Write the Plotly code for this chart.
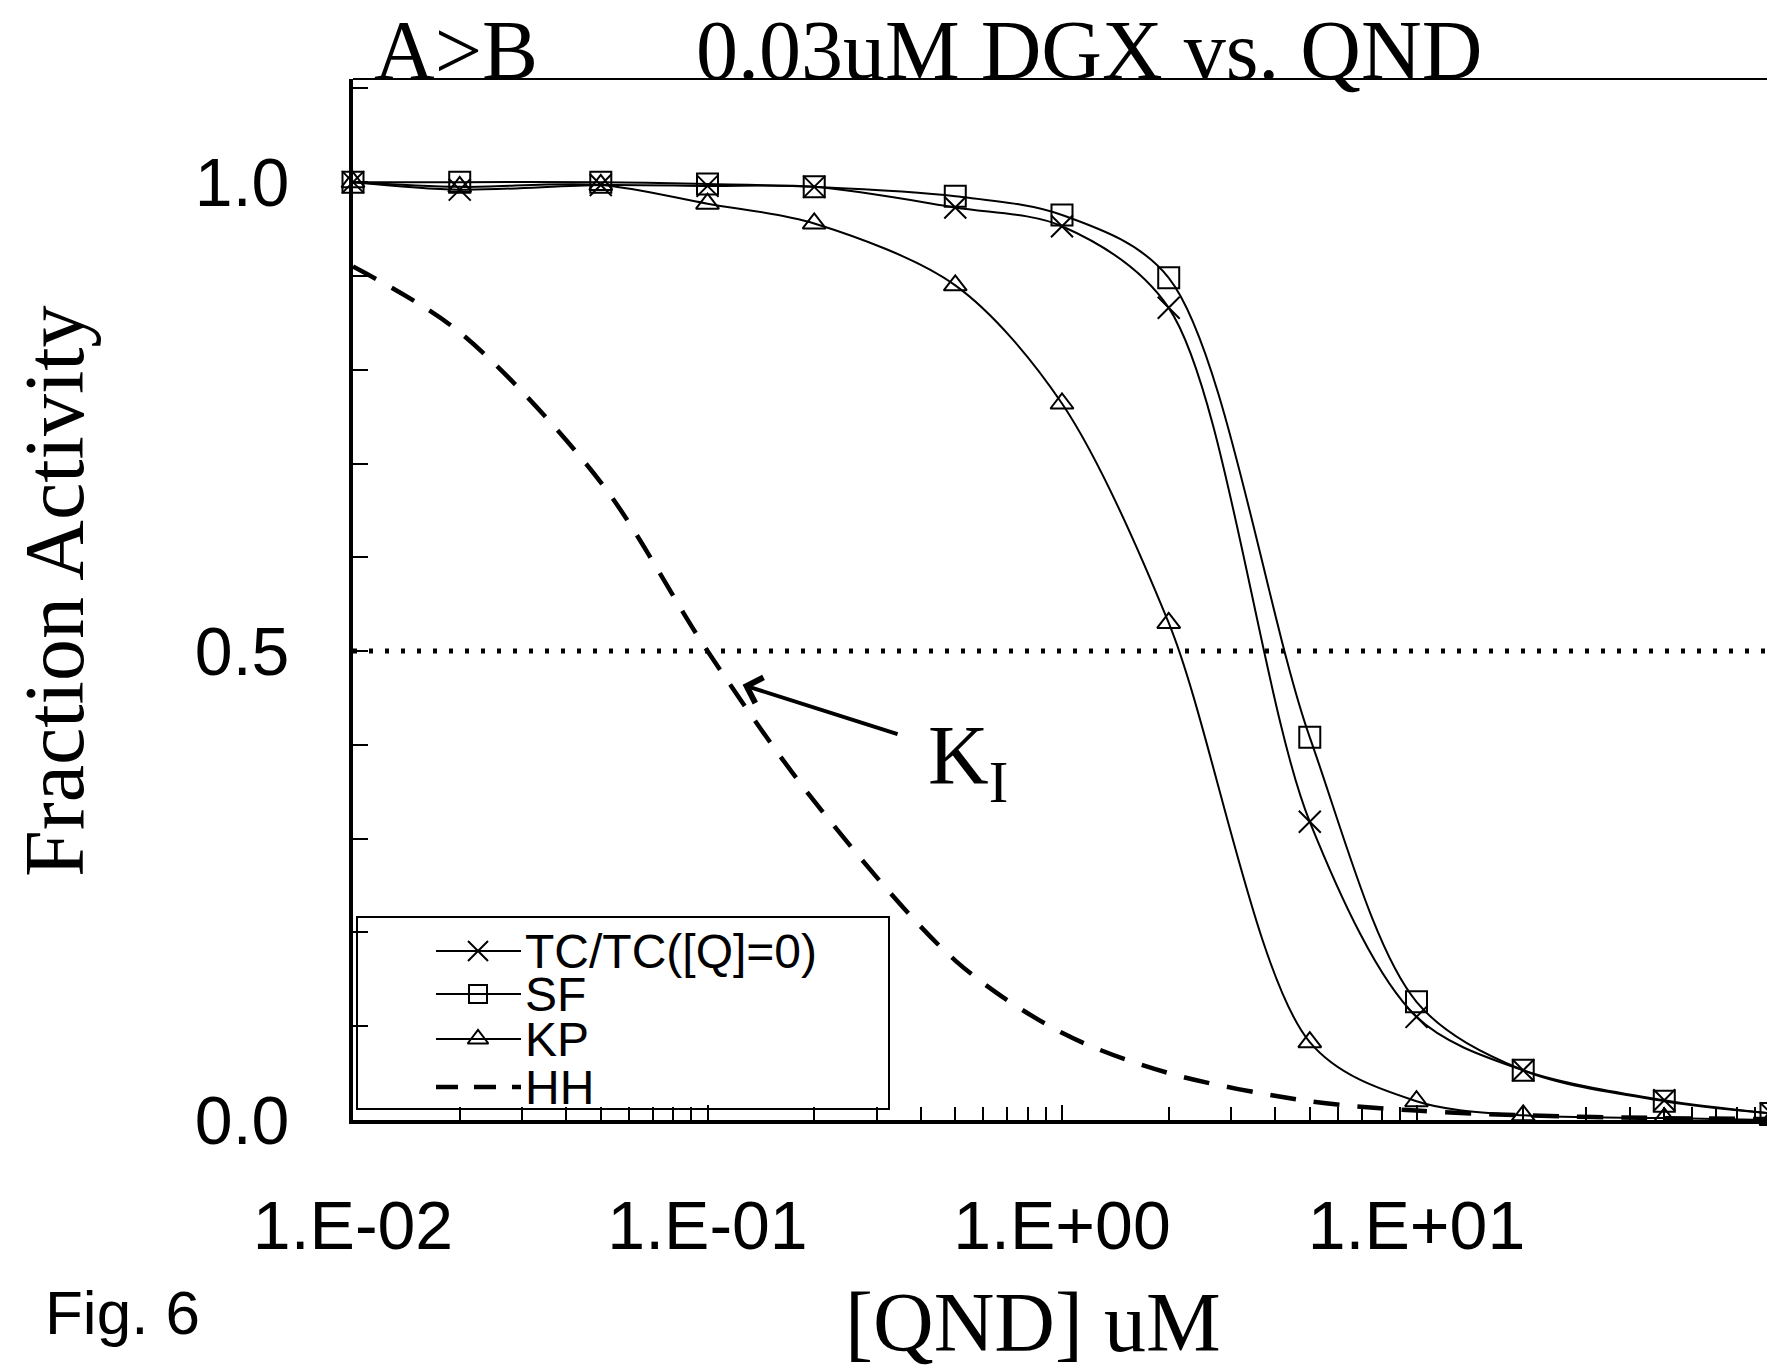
import numpy as np
import plotly.graph_objects as go

# ---------------- data ----------------
qnd_uM = [0.01, 0.02, 0.05, 0.1, 0.2, 0.5, 1, 2, 5, 10, 20, 50, 100]
tc_ratio = [1.0, 0.992, 0.997, 0.996, 0.995, 0.973, 0.953, 0.866, 0.318, 0.110, 0.053, 0.021, 0.007]
sf = [1.0, 1.0, 1.0, 0.998, 0.995, 0.985, 0.965, 0.898, 0.408, 0.126, 0.053, 0.020, 0.007]
kp = [1.0, 0.995, 0.997, 0.977, 0.956, 0.890, 0.764, 0.530, 0.083, 0.020, 0.005, 0.002, 0.0]
hh = [0.91, 0.84, 0.68, 0.50, 0.34, 0.17, 0.093, 0.050, 0.020, 0.010, 0.005, 0.002, 0.001]

series_names = ["TC/TC([Q]=0)", "SF", "KP", "HH"]
x_tick_vals = [0.01, 0.1, 1, 10]
x_tick_text = ["1.E-02", "1.E-01", "1.E+00", "1.E+01"]
y_tick_vals = [0.0, 0.5, 1.0]
y_tick_text = ["0.0", "0.5", "1.0"]
half_level = 0.5
ki_point = (0.1256, 0.464)

# ---------------- layout geometry (screen pixels) ----------------
OFF = 8                      # default page margin of the html body
W, H = 1775 - OFF, 1369 - OFF
L, R, T, B = 353, 1771, 79, 1120
pw, ph = R - L, B - T


def px(xp):
    return (xp - L) / pw


def py(yp):
    return (B - yp) / ph


SERIF = "Liberation Serif, Times New Roman, serif"
SANS = "Liberation Sans, Arial, sans-serif"

fig = go.Figure()

line_style = dict(color="black", width=2, shape="spline", smoothing=0.9)
marker_common = dict(color="black", line=dict(color="black", width=2))

fig.add_trace(go.Scatter(x=qnd_uM, y=tc_ratio, mode="lines+markers", name=series_names[0],
                         line=line_style, cliponaxis=False,
                         marker=dict(symbol="x-thin-open", size=22, **marker_common)))
fig.add_trace(go.Scatter(x=qnd_uM, y=sf, mode="lines+markers", name=series_names[1],
                         line=line_style, cliponaxis=False,
                         marker=dict(symbol="square-open", size=21, **marker_common)))
fig.add_trace(go.Scatter(x=qnd_uM, y=kp, mode="lines+markers", name=series_names[2],
                         line=line_style, cliponaxis=False,
                         marker=dict(symbol="triangle-up-open", size=20, **marker_common)))
fig.add_trace(go.Scatter(x=qnd_uM, y=hh, mode="lines", name=series_names[3],
                         line=dict(color="black", width=4.5, dash="26px,18px", shape="spline", smoothing=0.9),
                         cliponaxis=False))

# ---------------- manual legend (on an overlay paper-like axis) ----------------
leg_x0, leg_x1 = px(357), px(889)
leg_y0, leg_y1 = py(1109), py(917)
row_y = [py(951), py(994), py(1039), py(1087)]
samp_x0, samp_x1, samp_xm = px(436), px(521), px(478)
leg_symbols = ["x-thin-open", "square-open", "triangle-up-open", None]
leg_sizes = [20, 18, 18, 0]

fig.add_shape(type="rect", xref="paper", yref="paper", x0=leg_x0, x1=leg_x1, y0=leg_y0, y1=leg_y1,
              line=dict(color="black", width=2), fillcolor="white", layer="below")
for i, name in enumerate(series_names):
    if leg_symbols[i] is None:
        fig.add_trace(go.Scatter(x=[samp_x0, samp_x1], y=[row_y[i], row_y[i]], mode="lines",
                                 xaxis="x2", yaxis="y2", showlegend=False, hoverinfo="skip",
                                 line=dict(color="black", width=4.5, dash="22px,16px")))
    else:
        fig.add_trace(go.Scatter(x=[samp_x0, samp_x1], y=[row_y[i], row_y[i]], mode="lines",
                                 xaxis="x2", yaxis="y2", showlegend=False, hoverinfo="skip",
                                 line=dict(color="black", width=2)))
        fig.add_trace(go.Scatter(x=[samp_xm], y=[row_y[i]], mode="markers",
                                 xaxis="x2", yaxis="y2", showlegend=False, hoverinfo="skip",
                                 marker=dict(symbol=leg_symbols[i], size=leg_sizes[i], color="black",
                                             line=dict(color="black", width=2))))
    fig.add_annotation(x=px(523), y=row_y[i], xref="paper", yref="paper", text=name,
                       showarrow=False, xanchor="left", yanchor="middle",
                       font=dict(family=SANS, size=48, color="black"))

# ---------------- 0.5 reference line ----------------
fig.add_hline(y=half_level, line=dict(color="black", width=5, dash="4px,12px"))

# ---------------- K_I arrow and label ----------------
fig.add_annotation(x=np.log10(ki_point[0]), y=ki_point[1], xref="x", yref="y", text=" ",
                   showarrow=True, arrowhead=4, arrowsize=1.3, arrowwidth=4, arrowcolor="black",
                   ax=157, ay=50, font=dict(size=2))
fig.add_annotation(x=px(926), y=py(762), xref="paper", yref="paper", text="K<sub>I</sub>",
                   showarrow=False, xanchor="left", yanchor="middle",
                   font=dict(family=SERIF, size=84, color="black"))

# ---------------- titles ----------------
fig.add_annotation(x=px(372), y=py(50), xref="paper", yref="paper", text="A>B",
                   showarrow=False, xanchor="left", yanchor="middle",
                   font=dict(family=SERIF, size=84, color="black"))
fig.add_annotation(x=px(694), y=py(50), xref="paper", yref="paper", text="0.03uM DGX vs. QND",
                   showarrow=False, xanchor="left", yanchor="middle",
                   font=dict(family=SERIF, size=84, color="black"))
fig.add_annotation(x=px(54), y=py(591), xref="paper", yref="paper", text="Fraction Activity",
                   showarrow=False, xanchor="center", yanchor="middle", textangle=-90,
                   font=dict(family=SERIF, size=84, color="black"))
fig.add_annotation(x=px(1033), y=py(1322), xref="paper", yref="paper", text="[QND] uM",
                   showarrow=False, xanchor="center", yanchor="middle",
                   font=dict(family=SERIF, size=84, color="black"))
fig.add_annotation(x=px(43), y=py(1312), xref="paper", yref="paper", text="Fig. 6",
                   showarrow=False, xanchor="left", yanchor="middle",
                   font=dict(family=SANS, size=62, color="black"))

# top and right frame lines
fig.add_shape(type="line", xref="paper", yref="paper", x0=0, x1=1, y0=1, y1=1,
              line=dict(color="black", width=2))
fig.add_shape(type="line", xref="paper", yref="paper", x0=1, x1=1, y0=0, y1=1,
              line=dict(color="black", width=2))

fig.update_layout(
    width=W, height=H,
    margin=dict(l=L - OFF, r=W - (R - OFF), t=T - OFF, b=H - (B - OFF), pad=0),
    paper_bgcolor="white", plot_bgcolor="white",
    showlegend=False,
    xaxis=dict(type="log", range=[-2, 2], showgrid=False, zeroline=False,
               showline=True, linecolor="black", linewidth=4,
               tickmode="array", tickvals=x_tick_vals, ticktext=x_tick_text,
               ticks="inside", ticklen=15, tickwidth=2, tickcolor="black",
               ticklabelstandoff=43,
               tickfont=dict(family=SANS, size=68, color="black"),
               minor=dict(ticks="inside", ticklen=13, tickwidth=2, tickcolor="black",
                          tickmode="array",
                          tickvals=[m * d for d in (0.01, 0.1, 1, 10) for m in range(2, 10)],
                          showgrid=False)),
    yaxis=dict(range=[0, 1.11], showgrid=False, zeroline=False,
               showline=True, linecolor="black", linewidth=4,
               tickmode="array", tickvals=y_tick_vals, ticktext=y_tick_text,
               ticks="inside", ticklen=15, tickwidth=2, tickcolor="black",
               ticklabelstandoff=46,
               tickfont=dict(family=SANS, size=68, color="black"),
               minor=dict(ticks="inside", ticklen=15, tickwidth=2, tickcolor="black",
                          dtick=0.1, tick0=0, showgrid=False)),
    xaxis2=dict(domain=[0, 1], range=[0, 1], overlaying="x", anchor="y2", visible=False),
    yaxis2=dict(domain=[0, 1], range=[0, 1], overlaying="y", anchor="x2", visible=False),
)

fig.write_html("out.html")
